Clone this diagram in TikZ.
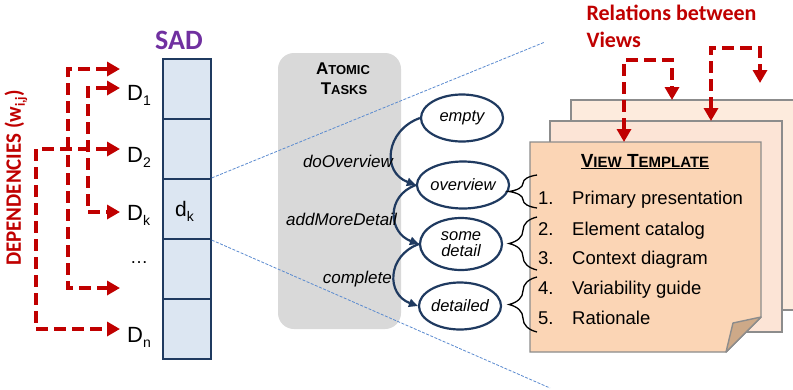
\documentclass[tikz,border=0pt]{standalone}
\usepackage{fontspec}
\setmainfont{Liberation Sans}
\newfontfamily\carl{Carlito}
\usetikzlibrary{arrows.meta,decorations.pathreplacing,shapes.geometric,calc}
\definecolor{depred}{HTML}{C00000}
\definecolor{navy}{HTML}{1F3A60}
\definecolor{sadfill}{HTML}{DCE6F2}
\definecolor{sadpurple}{HTML}{7030A0}
\definecolor{boxgray}{HTML}{D9D9D9}
\definecolor{linkblue}{HTML}{5B8BD0}
\definecolor{pagefront}{HTML}{FBD5B5}
\definecolor{pagemid}{HTML}{FCE4D6}
\definecolor{pageback}{HTML}{FDEBDD}
\definecolor{foldtan}{HTML}{CDA988}
\definecolor{pageedge}{HTML}{8C8C8C}
\newcommand\fs[2]{\fontsize{#1}{#2}\selectfont}
\newcommand\subsc[1]{\raisebox{-5pt}{\fs{14}{16}#1}}
\tikzset{
  cell/.style={draw=navy, line width=2.2pt, fill=sadfill, minimum width=48pt, minimum height=60pt, inner sep=0pt},
  dep/.style={draw=depred, line width=4.2pt, dash pattern=on 12pt off 6pt,
    {Triangle[length=13pt,width=14pt]}-{Triangle[length=13pt,width=14pt]}},
  dlab/.style={anchor=base west, inner sep=0pt, font=\fs{22}{24}},
  link/.style={draw=linkblue, line width=0.8pt, dash pattern=on 3pt off 1.5pt},
  state/.style={ellipse, draw=navy, line width=2.2pt, fill=white, minimum width=82pt, minimum height=47pt, inner sep=0pt, font=\fs{16.5}{18}\itshape, align=center},
  trans/.style={draw=navy, line width=2.2pt, -{Triangle[length=9pt,width=8pt]}},
  tlab/.style={anchor=base east, inner sep=0pt, font=\fs{17}{20}\itshape},
  page/.style={draw=pageedge, line width=1.4pt},
  brc/.style={draw=black, line width=1.3pt, decorate, decoration={brace, amplitude=28pt}},
  item/.style={anchor=base west, inner sep=0pt, font=\fs{18.5}{20}}
}
\begin{document}
\begin{tikzpicture}[x=1pt,y=-1pt]
\clip (0,0) rectangle (793,389);
\fill[white] (0,0) rectangle (793,389);

% SAD column
\node[font=\carl\bfseries\fs{28}{30}, text=sadpurple, anchor=base] (sad) at (179,49) {SAD};
\foreach \i in {1,...,5} \node[cell] (c\i) at (186.7,29+60*\i) {};
\node[font=\fs{21}{23}, anchor=base] (dk) at (184.5,216) {d\subsc{k}};

% D labels
\node[dlab] (D1) at (127,100) {D\subsc{1}};
\node[dlab] (D2) at (127,162) {D\subsc{2}};
\node[dlab] (Dk) at (127,220) {D\subsc{k}};
\node[dlab, font=\fs{18}{20}] (Dd) at (130,263) {\dots};
\node[dlab] (Dn) at (127,342) {D\subsc{n}};

% dependency arrows
\coordinate (t0) at (120,69);
\coordinate (t1) at (120,88);
\coordinate (t2) at (120,149);
\coordinate (tk) at (120,212);
\coordinate (td) at (120,288);
\coordinate (tn) at (120,329);
\draw[dep] (t2) -- (36,149) -- (36,329) -- (tn);
\draw[dep] (t0) -- (68,69) -- (68,288) -- (td);
\draw[dep] (t1) -- (88,88) -- (88,212) -- (tk);

\node[rotate=90, font=\carl\bfseries\fs{22}{24}, text=depred, inner sep=0pt] (deps) at (16,178) {\scalebox{0.95}[1]{DEPENDENCIES (w\raisebox{-4pt}{\fs{14}{16}i,j})}};

% atomic tasks box
\node[rectangle, rounded corners=16pt, fill=boxgray, minimum width=123pt, minimum height=276pt, inner sep=0pt] (atb) at (339.5,191) {};
\node[anchor=base, font=\bfseries\fs{17}{20}] (at1) at (343,74) {A{\fs{13}{15}TOMIC}};
\node[anchor=base, font=\bfseries\fs{17}{20}] (at2) at (344,94) {T{\fs{13}{15}ASKS}};

% zoom lines
\coordinate (z1) at (545,42);
\coordinate (z2) at (550,388);
\draw[link] (c3.north east) -- (z1);
\draw[link] (c3.south east) -- (z2);

% states
\node[state] (e1) at (462,118) {empty};
\node[state] (e2) at (463,185) {overview};
\node[state, minimum height=52pt] (e3) at (461,244) {some\\[-2pt]detail};
\node[state] (e4) at (460,306) {detailed};
\draw[trans] (e1.west) to[out=200,in=160,looseness=1.4] (e2.west);
\draw[trans] (e2.west) to[out=200,in=160,looseness=1.4] (e3.west);
\draw[trans] (e3.west) to[out=200,in=160,looseness=1.4] (e4.west);
\node[tlab] (l1) at (393,167) {doOverview};
\node[tlab] (l2) at (397,225) {addMoreDetail};
\node[tlab] (l3) at (392,283) {complete};

% pages
\draw[page, fill=pageback] (571,310) -- (571,100) -- (800,100) -- (800,310) -- cycle;
\draw[page, fill=pagemid] (550,121) rectangle (782,332);
\draw[page, fill=pagefront] (530,142) -- (761,142) -- (761,317) -- (726,352) -- (530,352) -- cycle;
\draw[page, fill=foldtan, line join=round] (761,317) -- (733,323) -- (726,352) -- cycle;

% relations
\node[anchor=base west, font=\carl\bfseries\fs{22}{27}, text=depred] (rel1) at (583,20) {Relations between};
\node[anchor=base west, font=\carl\bfseries\fs{22}{27}, text=depred] (rel2) at (583,47) {Views};
\coordinate (r1a) at (624,142);
\coordinate (r1b) at (672,100);
\coordinate (r2a) at (711,121);
\coordinate (r2b) at (760,83);
\draw[dep] (r1a) -- (624,60) -- (672,60) -- (r1b);
\draw[dep] (r2a) -- (711,48) -- (760,48) -- (r2b);

% view template
\node[anchor=base, font=\bfseries\fs{19}{22}] (vt) at (645,167) {\underline{V{\fs{15}{17}IEW} T{\fs{15}{17}EMPLATE}}};
\node[item] (n1) at (538,204) {1.};
\node[item] (n2) at (538,235) {2.};
\node[item] (n3) at (538,264) {3.};
\node[item] (n4) at (538,294) {4.};
\node[item] (n5) at (538,324) {5.};
\node[item] (i1) at (572,204) {Primary presentation};
\node[item] (i2) at (572,235) {Element catalog};
\node[item] (i3) at (572,264) {Context diagram};
\node[item] (i4) at (572,294) {Variability guide};
\node[item] (i5) at (572,324) {Rationale};

% braces
\draw[brc] (537,208) -- (537,175);
\draw[brc] (537,270) -- (537,217);
\draw[brc] (537,332) -- (537,277);
\end{tikzpicture}
\end{document}
